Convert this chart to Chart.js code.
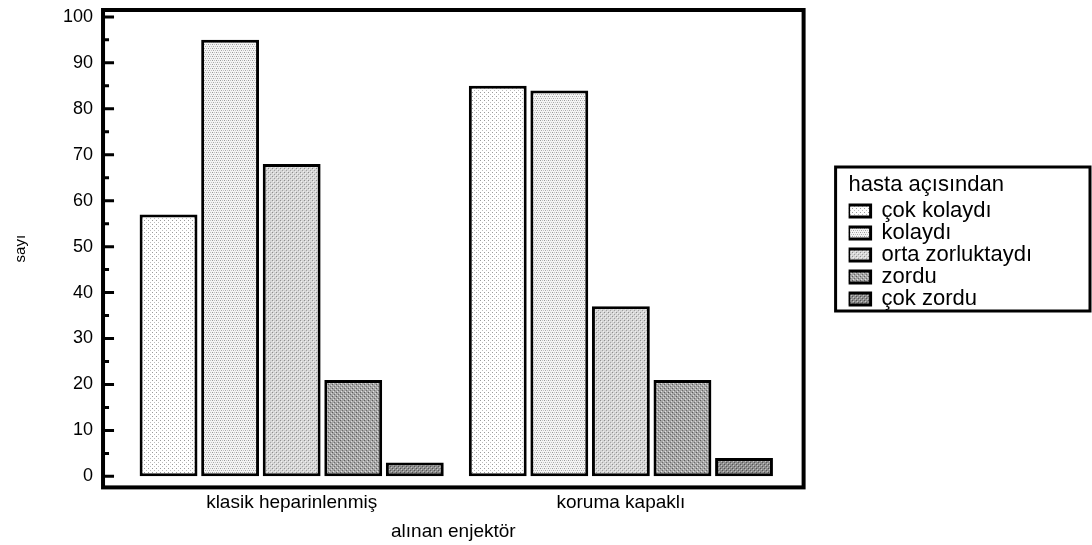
<!DOCTYPE html>
<html>
<head>
<meta charset="utf-8">
<script src="https://cdn.jsdelivr.net/npm/chart.js@4"></script>
<style>
  html, body { margin: 0; padding: 0; background: #fff; }
</style>
</head>
<body>
<canvas id="graph" width="1092" height="545"></canvas>
<script>
// categories on the x axis
const categories = ["klasik heparinlenmiş", "koruma kapaklı"];
// one array per answer (hasta açısından)
const seriesNames = ["çok kolaydı", "kolaydı", "orta zorluktaydı", "zordu", "çok zordu"];
const cokKolaydi = [57, 85];
const kolaydi = [95, 84];
const ortaZorluktaydi = [68, 37];
const zordu = [21, 21];
const cokZordu = [3, 4];
const yTicks = [0, 10, 20, 30, 40, 50, 60, 70, 80, 90, 100];

const FONT = "'Liberation Sans', Arial, sans-serif";

// little dotted fills, like the old stats package did
function makePattern(bg, dots) {
  const c = document.createElement('canvas');
  c.width = 4; c.height = 4;
  const g = c.getContext('2d');
  g.fillStyle = bg;
  g.fillRect(0, 0, 4, 4);
  dots.forEach(function (d) {
    g.fillStyle = d[2];
    g.fillRect(d[0], d[1], 1, 1);
  });
  return g.createPattern(c, 'repeat');
}

const fills = [
  makePattern('#ffffff', [[0, 0, '#9a9a9a'], [2, 2, '#bdbdbd']]),
  makePattern('#f4f4f4', [[0, 0, '#9a9a9a'], [2, 0, '#c0c0c0'], [1, 2, '#a8a8a8'], [3, 2, '#c4c4c4']]),
  makePattern('#d6d6d6', [[0, 0, '#8e8e8e'], [2, 2, '#a0a0a0'], [1, 1, '#f2f2f2'], [3, 3, '#eeeeee']]),
  makePattern('#a6a6a6', [[0, 0, '#5c5c5c'], [2, 2, '#6c6c6c'], [1, 3, '#e0e0e0'], [3, 1, '#d8d8d8']]),
  makePattern('#8e8e8e', [[0, 0, '#525252'], [2, 2, '#585858'], [1, 1, '#c8c8c8'], [3, 3, '#c0c0c0']])
];

const allSeries = [cokKolaydi, kolaydi, ortaZorluktaydi, zordu, cokZordu];

const datasets = allSeries.map(function (vals, k) {
  return {
    label: seriesNames[k],
    data: vals.map(function (v, i) { return { x: i, y: v }; }),
    backgroundColor: fills[k],
    borderColor: '#000',
    borderWidth: 3,
    borderSkipped: false,
    barPercentage: 0.94,
    categoryPercentage: 0.935
  };
});

// frame around the plot, inward ticks on the left, box round the legend
const framePlugin = {
  id: 'frame',
  afterDraw(chart) {
    const ctx = chart.ctx;
    const a = chart.chartArea;
    const y = chart.scales.y;
    ctx.save();
    ctx.strokeStyle = '#000';
    ctx.lineWidth = 4;
    ctx.strokeRect(a.left, a.top, a.right - a.left, a.bottom - a.top);
    ctx.lineWidth = 3;
    ctx.beginPath();
    yTicks.forEach(function (t) {
      const p = y.getPixelForValue(t);
      ctx.moveTo(a.left, p);
      ctx.lineTo(a.left + 11, p);
      if (t < 100) {
        const q = y.getPixelForValue(t + 5);
        ctx.moveTo(a.left, q);
        ctx.lineTo(a.left + 6, q);
      }
    });
    ctx.stroke();
    const lg = chart.legend;
    if (lg && lg.legendHitBoxes.length) {
      const hb = lg.legendHitBoxes;
      const left = hb[0].left - 13;
      const top = hb[0].top - 33;
      const last = hb[hb.length - 1];
      const bottom = last.top + last.height / 2 + 12;
      ctx.lineWidth = 3;
      ctx.strokeRect(left, top, 1090 - left, bottom - top);
    }
    ctx.restore();
  }
};

new Chart(document.getElementById('graph'), {
  type: 'bar',
  data: { datasets: datasets },
  plugins: [framePlugin],
  options: {
    responsive: false,
    animation: false,
    layout: { padding: { left: 10, top: 0, right: 50, bottom: 2 } },
    plugins: {
      tooltip: { enabled: false },
      legend: {
        position: 'right',
        align: 'start',
        maxWidth: 400,
        title: {
          display: true,
          text: 'hasta açısından',
          position: 'start',
          color: '#000',
          font: { family: FONT, size: 22, lineHeight: 1 },
          padding: { top: 174, bottom: 4 }
        },
        labels: {
          color: '#000',
          font: { family: FONT, size: 22, lineHeight: 1 },
          boxWidth: 22,
          boxHeight: 12,
          padding: 0
        }
      }
    },
    scales: {
      x: {
        type: 'linear',
        offset: false,
        min: -0.573,
        max: 1.555,
        grid: { display: false, drawTicks: false },
        border: { display: false },
        afterBuildTicks(scale) {
          scale.ticks = categories.map(function (c, i) { return { value: i }; });
        },
        ticks: {
          color: '#000',
          font: { family: FONT, size: 19 },
          padding: 4,
          maxRotation: 0,
          callback: function (v) { return categories[v]; }
        },
        title: {
          display: true,
          text: 'alınan enjektör',
          color: '#000',
          font: { family: FONT, size: 19 },
          padding: { top: 2, bottom: 0 }
        }
      },
      y: {
        min: -2.4,
        max: 101.5,
        grid: { display: false, drawTicks: true, tickLength: 9 },
        border: { display: false },
        afterBuildTicks(scale) {
          scale.ticks = yTicks.map(function (v) { return { value: v }; });
        },
        ticks: {
          color: '#000',
          font: { family: FONT, size: 18, lineHeight: 1 },
          padding: 1
        },
        title: {
          display: true,
          text: 'sayı',
          color: '#000',
          font: { family: FONT, size: 15 },
          padding: { top: 2, bottom: 32 }
        }
      },
      y2: {
        position: 'right',
        display: true,
        grid: { display: false, drawTicks: false },
        border: { display: false },
        ticks: { display: false },
        afterFit(scale) { scale.width = 45; }
      }
    }
  }
});
</script>
</body>
</html>
